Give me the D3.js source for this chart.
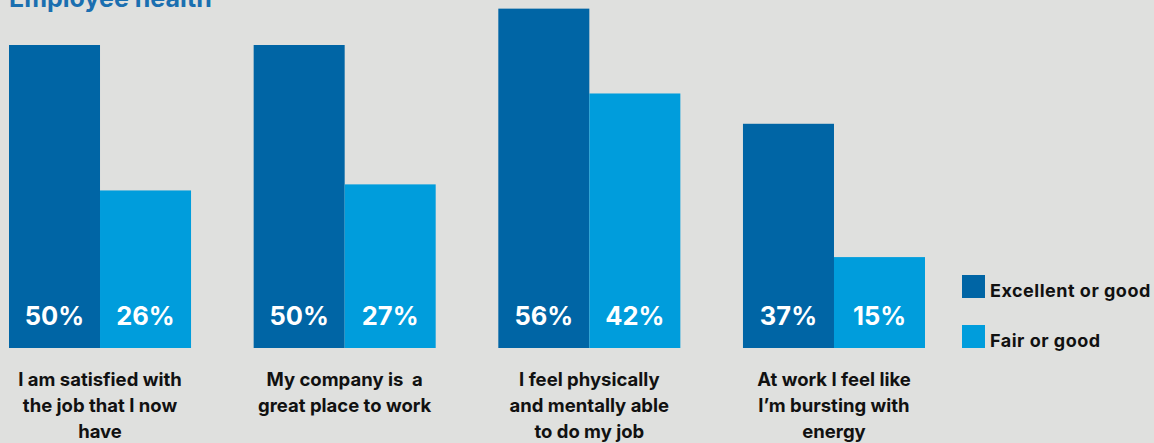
<!DOCTYPE html>
<html>
<head>
<meta charset="utf-8">
<script src="https://cdn.jsdelivr.net/npm/d3@7"></script>
<style>
  body { margin: 0; background: #dfe0de; }
  svg { display: block; font-family: Inter, "Noto Sans", sans-serif; }
</style>
</head>
<body>
<svg id="chart"></svg>
<script>
// Chart data
const categories = [
  ['I am satisfied with', 'the job that I now', 'have'],
  ['My company is  a', 'great place to work'],
  ['I feel physically', 'and mentally able', 'to do my job'],
  ['At work I feel like', 'I\u2019m bursting with', 'energy']
];
const seriesNames = ['Excellent or good', 'Fair or good'];
const excellent = [50, 50, 56, 37];
const fair = [26, 27, 42, 15];
const colors = ['#0065a5', '#009ddc'];

const width = 1154;
const height = 443;

let svg = d3.select('#chart')
    .attr('width', width)
    .attr('height', height);

// build rows from the arrays
let data = categories.map((c, i) => ({ label: c, values: [excellent[i], fair[i]] }));

// group scale
let x0 = d3.scaleBand()
    .domain(d3.range(categories.length))
    .range([9, 925])
    .paddingInner(0.256)
    .paddingOuter(0);

let x1 = d3.scaleBand()
    .domain([0, 1])
    .range([0, x0.bandwidth()]);

let y = d3.scaleLinear()
    .domain([0, 50])
    .range([348, 45]);

// title (cut off at the top in the original)
svg.append('text')
    .attr('x', 9)
    .attr('y', 7)
    .attr('fill', '#1a6fb0')
    .attr('font-size', 25)
    .attr('font-weight', 700)
    .text('Employee health');

let groups = svg.selectAll('.group')
    .data(data)
    .enter()
    .append('g')
    .attr('class', 'group')
    .attr('transform', (d, i) => 'translate(' + x0(i) + ',0)');

groups.selectAll('rect')
    .data(d => d.values)
    .enter()
    .append('rect')
    .attr('x', (d, j) => x1(j))
    .attr('y', d => y(d))
    .attr('width', x1.bandwidth())
    .attr('height', d => y(0) - y(d))
    .attr('fill', (d, j) => colors[j]);

// value labels inside bars
groups.selectAll('.val')
    .data(d => d.values)
    .enter()
    .append('text')
    .attr('class', 'val')
    .attr('x', (d, j) => x1(j) + x1.bandwidth() / 2)
    .attr('y', 325)
    .attr('text-anchor', 'middle')
    .attr('fill', '#fff')
    .attr('font-size', 25.5)
    .attr('font-weight', 700)
    .text(d => d + '%');

// category labels
groups.append('text')
    .attr('text-anchor', 'middle')
    .attr('font-size', 18.5)
    .attr('font-weight', 700)
    .attr('fill', '#111')
    .style('white-space', 'pre')
    .selectAll('tspan')
    .data(d => d.label)
    .enter()
    .append('tspan')
    .attr('x', x0.bandwidth() / 2)
    .attr('y', (d, k) => 386 + k * 26)
    .text(d => d);

// legend
let legend = svg.selectAll('.legend')
    .data(seriesNames)
    .enter()
    .append('g')
    .attr('class', 'legend')
    .attr('transform', (d, i) => 'translate(962,' + (275 + i * 50) + ')');

legend.append('rect')
    .attr('width', 23)
    .attr('height', 23)
    .attr('fill', (d, i) => colors[i]);

legend.append('text')
    .attr('x', 28)
    .attr('y', 22)
    .attr('font-size', 18)
    .attr('letter-spacing', 0.5)
    .attr('font-weight', 700)
    .attr('fill', '#111')
    .text(d => d);
</script>
</body>
</html>
